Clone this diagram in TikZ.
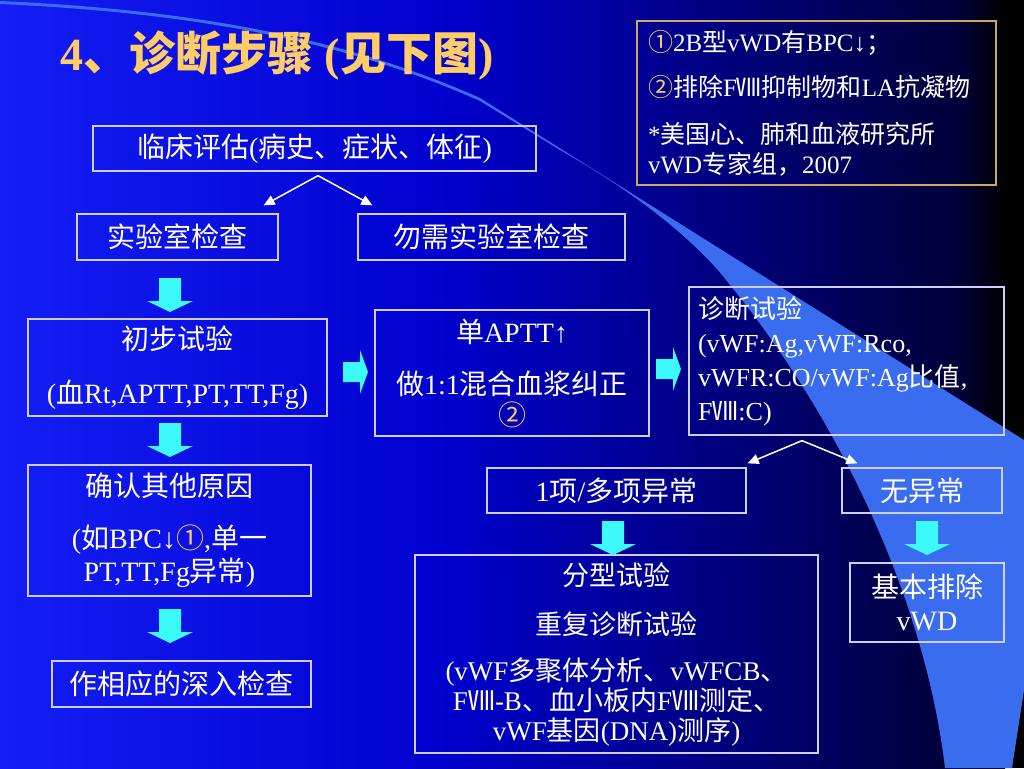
\documentclass[tikz,border=0pt]{standalone}
\usepackage{fontspec}
\setmainfont{Liberation Serif}
\newfontfamily\cjk{Noto Sans CJK SC}
\usetikzlibrary{arrows.meta,calc}
\newcommand{\zh}[1]{{\cjk #1}}
\newcommand{\cnum}[1]{{\color{gold}\cjk #1}}
\definecolor{bgA}{RGB}{20,30,245}
\definecolor{bgB}{RGB}{0,0,205}
\definecolor{bgC}{RGB}{0,0,115}
\definecolor{bgD}{RGB}{0,0,55}
\definecolor{wedge}{RGB}{58,108,240}
\definecolor{boxline}{RGB}{205,205,255}
\definecolor{noteline}{RGB}{200,170,100}
\definecolor{gold}{RGB}{255,204,102}
\definecolor{cyanarr}{RGB}{60,250,250}

\begin{document}
\begin{tikzpicture}[x=1pt, y=-1pt,
    box/.style     ={draw=boxline, line width=1.3pt, text=white, inner sep=0pt,
                     align=center, font=\fontsize{28}{31}\selectfont},
    leftbox/.style ={box, align=left, inner xsep=9pt, font=\fontsize{26}{34}\selectfont},
    notebox/.style ={box, draw=noteline, align=left, inner xsep=11pt,
                     font=\fontsize{25}{30}\selectfont},
    fork/.style    ={-{Triangle[length=11pt,width=10pt]}, draw=white, line width=1.5pt},
    blk/.style     ={fill=cyanarr},
    title/.style   ={font=\fontsize{46}{50}\selectfont\bfseries, text=gold,
                     anchor=west, inner sep=0pt},
    dnarr/.pic     ={\fill[blk] (-11,0) -- (11,0) -- (11,23) -- (23,23) -- (0,34)
                     -- (-23,23) -- (-11,23) -- cycle;},
    rtarr/.pic     ={\fill[blk] (0,-10) -- (17,-10) -- (17,-22) -- (25,0) -- (17,22)
                     -- (17,10) -- (0,10) -- cycle;}
  ]
    \useasboundingbox (0,0) rectangle (1024,768);

    % --- background ---
    \shade[left color=bgA, right color=bgB] (0,0) rectangle (452,768);
    \shade[left color=bgB, right color=bgC] (450,0) rectangle (762,768);
    \shade[left color=bgC, right color=bgD] (760,0) rectangle (962,768);
    \shade[left color=bgD, right color=black] (960,0) rectangle (1005,768);
    \fill[black] (1003,0) rectangle (1024,768);
    \fill[wedge] (0,1) .. controls (200,10) and (350,40) .. (480,98) -- (1024,440)
      -- (1024,690) -- (1012,768) -- (945,768)
      .. controls (925,600) and (840,420) .. (730,285)
      .. controls (700,245) and (640,195) .. (560,150)
      -- (480,101)
      .. controls (350,43) and (200,13) .. (0,4) -- cycle;

    % --- title and note ---
    \node[title] (head) at (60,56) {4\zh{、诊断步骤} (\zh{见下图})};
    \node[notebox, text width=337pt, minimum height=164pt] (note) at (816.5,103)
      {\cnum{①}2B\zh{型}vWD\zh{有}BPC↓\zh{；}\\[15pt]
       \cnum{②}\zh{排除}F\zh{Ⅷ抑制物和}LA\zh{抗凝物}\\[17pt]
       *\zh{美国心、肺和血液研究所}\\
       vWD\zh{专家组，}2007};

    % --- left column ---
    \node[box, minimum width=443pt, minimum height=45pt] (clin) at (314.5,148.5)
      {\zh{临床评估}(\zh{病史、症状、体征})};
    \node[box, minimum width=201pt, minimum height=46pt] (lab) at (177.5,237)
      {\zh{实验室检查}};
    \node[box, minimum width=267pt, minimum height=46pt] (nolab) at (491.5,237)
      {\zh{勿需实验室检查}};
    \node[box, minimum width=299pt, minimum height=97pt] (prelim) at (177.5,367.5)
      {\zh{初步试验}\\[23pt](\zh{血}Rt,APTT,PT,TT,Fg)};
    \node[box, minimum width=283pt, minimum height=131pt, font=\fontsize{28}{33}\selectfont]
      (other) at (169.5,530.5)
      {\zh{确认其他原因}\\[19pt](\zh{如}BPC↓\cnum{①},\zh{单一}\\PT,TT,Fg\zh{异常})};
    \node[box, minimum width=259pt, minimum height=46pt] (deep) at (181.5,684)
      {\zh{作相应的深入检查}};

    % --- middle and right ---
    \node[box, minimum width=274pt, minimum height=126pt] (aptt) at (512,373)
      {\zh{单}APTT↑\\[21pt]\zh{做}1:1\zh{混合血浆纠正}\\\cnum{②}};
    \node[leftbox, text width=297pt, minimum height=148pt] (diag) at (846.5,361)
      {\zh{诊断试验}\\(vWF:Ag,vWF:Rco,\\vWFR:CO/vWF:Ag\zh{比值},\\F\zh{Ⅷ}:C)};
    \node[box, minimum width=259pt, minimum height=45pt] (abn) at (616.5,490.5)
      {1\zh{项}/\zh{多项异常}};
    \node[box, minimum width=160pt, minimum height=45pt] (norm) at (922,490.5)
      {\zh{无异常}};
    \node[box, minimum width=403pt, minimum height=198pt, font=\fontsize{27}{30}\selectfont]
      (typing) at (616.5,654)
      {\zh{分型试验}\\[19pt]\zh{重复诊断试验}\\[16pt]
       (vWF\zh{多聚体分析、}vWFCB\zh{、}\\
       F\zh{Ⅷ}-B\zh{、血小板内}F\zh{Ⅷ测定、}\\
       vWF\zh{基因}(DNA)\zh{测序})};
    \node[box, minimum width=154pt, minimum height=79pt, font=\fontsize{28}{33}\selectfont]
      (excl) at (927,602.5) {\zh{基本排除}\\vWD};

    % --- thin fork arrows ---
    \coordinate (cfork) at ($(clin.south)+(3.5,4)$);
    \coordinate (cl) at ($(lab.north east)+(-15,-8)$);
    \coordinate (cr) at ($(nolab.north west)+(15,-8)$);
    \draw[fork] (cfork) -- (cl);
    \draw[fork] (cfork) -- (cr);
    \coordinate (dfork) at ($(diag.south)+(-44.5,5)$);
    \coordinate (dl) at ($(abn.north east)+(1,-4)$);
    \coordinate (dr) at ($(norm.north west)+(16,-4)$);
    \draw[fork] (dfork) -- (dl);
    \draw[fork] (dfork) -- (dr);

    % --- block arrows ---
    \pic at (170,278) {dnarr};
    \pic at (170,423) {dnarr};
    \pic at (170,609) {dnarr};
    \pic at (613,521) {dnarr};
    \pic at (927,521) {dnarr};
    \pic at (343,372) {rtarr};
    \pic at (656,369) {rtarr};
\end{tikzpicture}
\end{document}
